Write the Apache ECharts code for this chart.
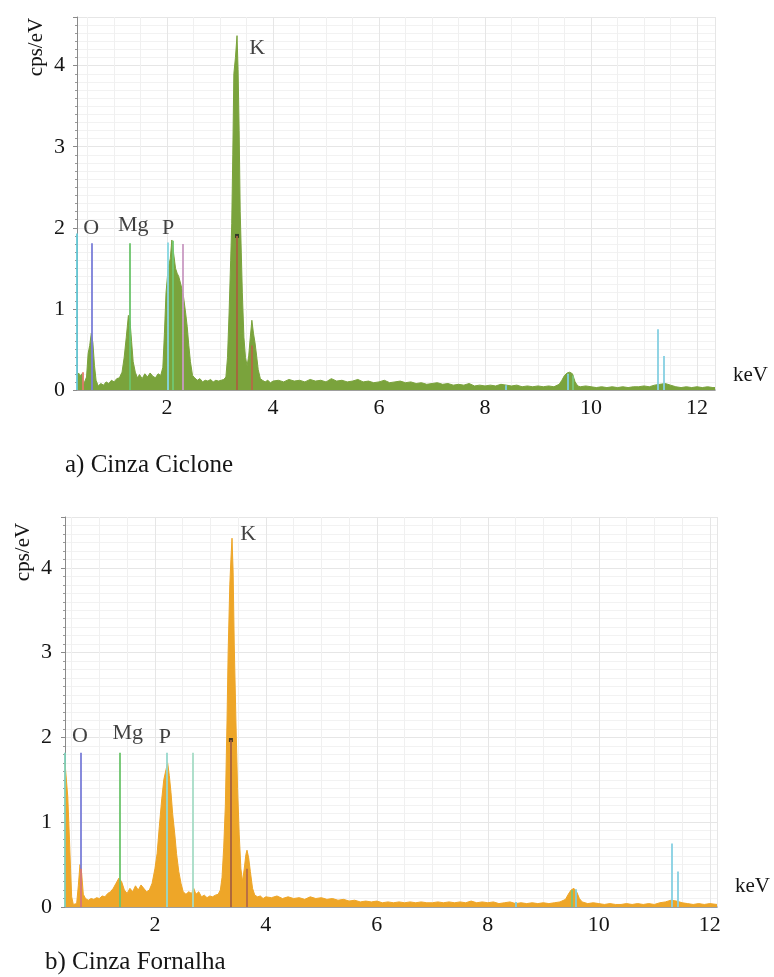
<!DOCTYPE html>
<html><head><meta charset="utf-8">
<script src="https://cdn.jsdelivr.net/npm/echarts@6/dist/echarts.min.js"></script>
<style>html,body{margin:0;padding:0;background:#fff}#c{width:774px;height:977px}</style>
</head><body><div id="c"></div>
<script>
// ===== (a) Cinza Ciclone : EDS spectrum =====
const energyA = [
 0.30,0.33,0.36,0.39,0.42,0.45,0.48,0.51,0.54,0.57,
 0.60,0.63,0.66,0.70,0.75,0.80,0.85,0.90,0.95,1.00,
 1.05,1.10,1.15,1.19,1.23,1.27,1.30,1.33,1.36,1.40,
 1.44,1.48,1.53,1.58,1.63,1.68,1.73,1.78,1.83,1.88,
 1.92,1.95,1.98,2.02,2.06,2.09,2.12,2.16,2.19,2.22,
 2.25,2.28,2.31,2.35,2.38,2.41,2.44,2.48,2.52,2.57,
 2.62,2.67,2.72,2.77,2.82,2.87,2.92,2.97,3.02,3.07,
 3.11,3.14,3.17,3.20,3.22,3.24,3.26,3.29,3.32,3.34,
 3.36,3.38,3.40,3.42,3.45,3.48,3.51,3.54,3.57,3.60,
 3.63,3.66,3.69,3.72,3.76,3.80,3.85,3.90,3.95,4.00,
 4.1,4.2,4.3,4.4,4.5,4.6,4.7,4.8,4.9,5.0,
 5.1,5.2,5.3,5.4,5.5,5.6,5.7,5.8,5.9,6.0,
 6.1,6.2,6.3,6.4,6.5,6.6,6.7,6.8,6.9,7.0,
 7.1,7.2,7.3,7.4,7.5,7.6,7.7,7.8,7.9,8.0,
 8.1,8.2,8.3,8.4,8.5,8.6,8.7,8.8,8.9,9.0,
 9.1,9.2,9.3,9.4,9.45,9.5,9.55,9.6,9.65,9.7,
 9.75,9.8,9.9,10.0,10.1,10.2,10.3,10.4,10.5,10.6,
 10.7,10.8,10.9,11.0,11.1,11.2,11.3,11.4,11.5,11.6,
 11.7,11.8,11.9,12.0,12.1,12.2,12.3,12.34
];
const cpsA = [
 0.18,0.21,0.17,0.20,0.06,0.04,0.16,0.45,0.55,0.70,
 0.58,0.30,0.12,0.05,0.08,0.06,0.10,0.08,0.12,0.10,
 0.14,0.15,0.22,0.40,0.65,0.92,0.85,0.60,0.35,0.22,
 0.15,0.19,0.14,0.20,0.16,0.21,0.17,0.15,0.20,0.18,
 0.28,0.70,1.20,1.50,1.62,1.85,1.70,1.50,1.44,1.40,
 1.38,1.25,1.15,0.95,0.78,0.55,0.35,0.18,0.15,0.12,
 0.14,0.10,0.12,0.11,0.13,0.10,0.12,0.11,0.12,0.13,
 0.16,0.40,0.95,1.60,2.05,2.90,3.90,4.10,4.37,3.95,
 3.20,2.20,1.70,1.20,0.65,0.40,0.30,0.42,0.65,0.86,
 0.70,0.58,0.42,0.25,0.14,0.12,0.10,0.12,0.09,0.11,
 0.12,0.10,0.13,0.11,0.12,0.10,0.13,0.11,0.12,0.10,
 0.14,0.11,0.12,0.10,0.11,0.13,0.10,0.11,0.09,0.10,
 0.12,0.09,0.10,0.11,0.09,0.10,0.08,0.09,0.07,0.08,
 0.09,0.07,0.08,0.06,0.07,0.06,0.08,0.05,0.06,0.05,
 0.06,0.05,0.07,0.06,0.05,0.06,0.04,0.05,0.04,0.05,
 0.04,0.05,0.04,0.07,0.12,0.18,0.21,0.22,0.20,0.10,
 0.05,0.04,0.05,0.04,0.03,0.04,0.03,0.04,0.03,0.04,
 0.03,0.04,0.04,0.05,0.04,0.06,0.07,0.08,0.06,0.04,
 0.03,0.04,0.03,0.04,0.03,0.04,0.03,0.03
];
// element marker lines (energy keV, height cps/eV, line family)
const markerEnergyA = [0.30, 0.41, 0.57, 1.30, 2.02, 2.11, 2.30, 3.32, 3.59, 8.40, 9.57, 9.66, 11.26, 11.38];
const markerTopA    = [1.93, 0.22, 1.81, 1.81, 1.82, 1.84, 1.80, 1.90, 0.55, 0.06, 0.20, 0.18, 0.75, 0.42];
const markerKindA   = ['C','Ca','O','Mg','P','Si','S','K','Kb','Cu','Zn','Ge','As','As'];
// element labels
const labelTextA   = ['O','Mg','P','K'];
const labelEnergyA = [0.57, 1.36, 2.02, 3.70];
const labelCpsA    = [1.99, 2.03, 2.00, 4.21];

// ===== (b) Cinza Fornalha : EDS spectrum =====
const energyB = [
 0.38,0.41,0.43,0.46,0.48,0.50,0.53,0.56,0.59,0.62,
 0.65,0.68,0.71,0.75,0.80,0.85,0.90,0.95,1.00,1.05,
 1.10,1.15,1.20,1.25,1.30,1.35,1.40,1.45,1.50,1.55,
 1.60,1.65,1.70,1.75,1.80,1.85,1.90,1.95,2.00,2.04,
 2.08,2.12,2.16,2.20,2.23,2.26,2.29,2.32,2.36,2.39,
 2.43,2.47,2.51,2.56,2.61,2.66,2.70,2.74,2.79,2.84,
 2.89,2.94,2.99,3.04,3.09,3.14,3.18,3.21,3.24,3.27,
 3.30,3.32,3.35,3.37,3.39,3.41,3.43,3.46,3.49,3.52,
 3.55,3.58,3.61,3.64,3.66,3.69,3.72,3.76,3.80,3.85,
 3.90,3.95,4.00,4.1,4.2,4.3,4.4,4.5,4.6,4.7,
 4.8,4.9,5.0,5.1,5.2,5.3,5.4,5.5,5.6,5.7,
 5.8,5.9,6.0,6.1,6.2,6.3,6.4,6.5,6.6,6.7,
 6.8,6.9,7.0,7.1,7.2,7.3,7.4,7.5,7.6,7.7,
 7.8,7.9,8.0,8.1,8.2,8.3,8.4,8.5,8.6,8.7,
 8.8,8.9,9.0,9.1,9.2,9.3,9.4,9.45,9.5,9.55,
 9.6,9.65,9.7,9.8,9.9,10.0,10.1,10.2,10.3,10.4,
 10.5,10.6,10.7,10.8,10.9,11.0,11.1,11.2,11.3,11.4,
 11.5,11.6,11.7,11.8,11.9,12.0,12.13
];
const cpsB = [
 1.70,1.72,1.30,0.80,0.45,0.12,0.03,0.02,0.04,0.25,
 0.50,0.40,0.15,0.10,0.08,0.10,0.09,0.11,0.10,0.13,
 0.12,0.16,0.18,0.22,0.28,0.34,0.30,0.20,0.16,0.22,
 0.18,0.25,0.20,0.26,0.22,0.18,0.20,0.28,0.45,0.63,
 0.95,1.25,1.50,1.62,1.70,1.55,1.35,1.10,0.85,0.63,
 0.42,0.28,0.18,0.15,0.18,0.16,0.22,0.15,0.18,0.12,
 0.14,0.11,0.13,0.12,0.14,0.15,0.20,0.35,0.70,1.20,
 2.20,3.00,3.80,4.10,4.35,3.95,3.10,2.20,1.40,0.85,
 0.45,0.30,0.45,0.62,0.67,0.58,0.42,0.22,0.14,0.12,
 0.13,0.10,0.12,0.11,0.13,0.10,0.12,0.10,0.11,0.09,
 0.12,0.10,0.11,0.09,0.10,0.08,0.09,0.07,0.08,0.06,
 0.07,0.06,0.07,0.05,0.06,0.05,0.06,0.05,0.06,0.05,
 0.06,0.05,0.05,0.06,0.05,0.06,0.05,0.06,0.05,0.07,
 0.05,0.06,0.05,0.06,0.04,0.05,0.06,0.04,0.05,0.04,
 0.05,0.04,0.05,0.04,0.05,0.06,0.09,0.15,0.20,0.22,
 0.18,0.10,0.06,0.04,0.05,0.04,0.03,0.04,0.03,0.03,
 0.04,0.03,0.04,0.03,0.04,0.03,0.05,0.06,0.08,0.07,
 0.05,0.04,0.03,0.04,0.03,0.04,0.03
];
const markerEnergyB = [0.38, 0.66, 0.66, 1.37, 2.21, 2.68, 3.37, 3.66, 8.50, 9.52, 9.58, 11.32, 11.42];
const markerTopB    = [1.82, 1.82, 0.45, 1.82, 1.82, 1.82, 1.97, 0.45, 0.06, 0.20, 0.21, 0.75, 0.42];
const markerKindB   = ['C2','O','Ca','Mg','P2','Si2','K','Kb','Cu','Ge','Zn','As','As'];
const labelTextB   = ['O','Mg','P','K'];
const labelEnergyB = [0.65, 1.51, 2.18, 3.68];
const labelCpsB    = [2.02, 2.05, 2.00, 4.40];

// ===== styles =====
const SERIF = '"Liberation Serif", "Times New Roman", serif';
const lineColor = {
  C:'#67c9d6', C2:'#7fd0b8', Ca:'#e07a68', O:'#7a7ed8', Mg:'#6cc46c', P:'#86d6e2', P2:'#96d8cc',
  Si:'#72c872', Si2:'#a6dcc6', S:'#c99ac2', K:'#a8623e', Kb:'#b56a46',
  Cu:'#7fcfe0', Zn:'#7fcfe0', Ge:'#7cc67c', As:'#86d0e2'
};

function pairs(xs, ys){ return xs.map((x,i)=>[x, ys[i]]); }
function markLines(es, hs, ks){
  return es.map((e,i)=>[
    {coord:[e,0], lineStyle:{color:lineColor[ks[i]], width:1.8, type:'solid'}},
    {coord:[e,hs[i]]}
  ]);
}
function kDots(es, hs, ks){
  return es.map((e,i)=>ks[i]==='K' ? [e,hs[i]] : null).filter(Boolean);
}
function xAxisMain(gi, min, max, namePad){
  return {
    type:'value', gridIndex:gi, min:min, max:max, splitNumber:6,
    axisLine:{show:true, onZero:false, lineStyle:{color:'#aaaaaa', width:1}},
    axisTick:{show:true, inside:true, length:3, lineStyle:{color:'#aaaaaa'}},
    minorTick:{show:false, splitNumber:4},
    axisLabel:{showMinLabel:false, showMaxLabel:false, fontFamily:SERIF, fontSize:22, color:'#151515', margin:7},
    splitLine:{show:true, lineStyle:{color:'#e6e6e6', width:1}},
    minorSplitLine:{show:true, lineStyle:{color:'#f0f0f0', width:1}},
    name:'keV', nameLocation:'end', nameGap:18,
    nameTextStyle:{fontFamily:SERIF, fontSize:21, color:'#151515', verticalAlign:'bottom', padding:[0,0,namePad,0]}
  };
}
function xAxisTop(gi, min, max){
  return {type:'value', gridIndex:gi, position:'top', min:min, max:max,
    axisLine:{show:true, lineStyle:{color:'#9a9a9a', width:1.5}},
    axisTick:{show:false}, axisLabel:{show:false}, splitLine:{show:false}};
}
function yAxisMain(gi, margin){
  return {
    type:'value', gridIndex:gi, min:0, max:4.6, interval:1,
    axisLine:{show:true, lineStyle:{color:'#8a8a8a', width:1}},
    axisTick:{show:true, length:4, lineStyle:{color:'#8a8a8a'}},
    minorTick:{show:true, splitNumber:10, length:2, lineStyle:{color:'#9a9a9a'}},
    axisLabel:{showMaxLabel:false, fontFamily:SERIF, fontSize:22, color:'#151515', margin:margin},
    splitLine:{show:true, lineStyle:{color:'#e6e6e6', width:1}},
    minorSplitLine:{show:true, lineStyle:{color:'#f2f2f2', width:1}}
  };
}
function spectrum(gi, xs, ys, color){
  return {type:'line', xAxisIndex:gi, yAxisIndex:gi, data:pairs(xs,ys), showSymbol:false, symbol:'none',
    sampling:null, z:2, silent:true,
    lineStyle:{color:color, width:1}, areaStyle:{color:color, opacity:1}};
}
function markers(gi, es, hs, ks){
  return {type:'line', xAxisIndex:gi, yAxisIndex:gi, data:[], z:3, silent:true,
    markLine:{silent:true, symbol:['none','none'], label:{show:false}, animation:false,
      lineStyle:{type:'solid'}, data:markLines(es,hs,ks)}};
}
function dots(gi, es, hs, ks){
  return {type:'scatter', xAxisIndex:gi, yAxisIndex:gi, z:4, silent:true, symbol:'rect', symbolSize:4,
    itemStyle:{color:'#222'}, data:kDots(es,hs,ks)};
}
function labels(gi, txt, es, hs){
  return {type:'scatter', xAxisIndex:gi, yAxisIndex:gi, z:5, silent:true, symbolSize:1,
    itemStyle:{color:'transparent'},
    data:txt.map((t,i)=>({name:t, value:[es[i],hs[i]]})),
    label:{show:true, position:'inside', formatter:'{b}', fontFamily:SERIF, fontSize:22, color:'#111'}};
}

const chart = echarts.init(document.getElementById('c'), null, {renderer:'canvas'});
chart.setOption({
  animation:false,
  backgroundColor:'#ffffff',
  grid:[
    {left:77, top:17, width:638, height:373},
    {left:65, top:517, width:652, height:390}
  ],
  xAxis:[
    xAxisMain(0, 0.3, 12.34, 4),
    xAxisMain(1, 0.38, 12.13, 10),
    xAxisTop(0, 0.3, 12.34),
    xAxisTop(1, 0.38, 12.13)
  ],
  yAxis:[ yAxisMain(0, 12), yAxisMain(1, 13) ],
  series:[
    spectrum(0, energyA, cpsA, '#7aa33c'),
    spectrum(1, energyB, cpsB, '#eea628'),
    markers(0, markerEnergyA, markerTopA, markerKindA),
    markers(1, markerEnergyB, markerTopB, markerKindB),
    dots(0, markerEnergyA, markerTopA, markerKindA),
    dots(1, markerEnergyB, markerTopB, markerKindB),
    labels(0, labelTextA, labelEnergyA, labelCpsA),
    labels(1, labelTextB, labelEnergyB, labelCpsB)
  ],
  graphic:[
    {type:'text', x:36, y:47, rotation:Math.PI/2,
      style:{text:'cps/eV', font:'21px "Liberation Serif"', fill:'#151515', align:'center', verticalAlign:'middle', textAlign:'center', textVerticalAlign:'middle'}},
    {type:'text', x:23, y:552, rotation:Math.PI/2,
      style:{text:'cps/eV', font:'21px "Liberation Serif"', fill:'#151515', align:'center', verticalAlign:'middle', textAlign:'center', textVerticalAlign:'middle'}},
    {type:'text', x:65, y:465,
      style:{text:'a) Cinza Ciclone', font:'25px "Liberation Serif"', fill:'#151515', align:'left', verticalAlign:'middle', textAlign:'left', textVerticalAlign:'middle'}},
    {type:'text', x:45, y:962,
      style:{text:'b) Cinza Fornalha', font:'25px "Liberation Serif"', fill:'#151515', align:'left', verticalAlign:'middle', textAlign:'left', textVerticalAlign:'middle'}}
  ]
});
</script>
</body></html>
